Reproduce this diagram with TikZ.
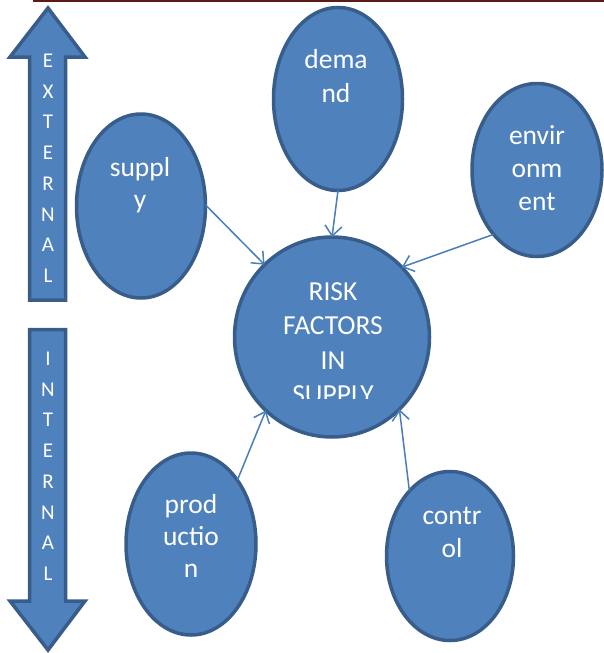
\documentclass[tikz,border=0pt]{standalone}
\usepackage{fontspec}
\setmainfont{Carlito}
\usetikzlibrary{shapes.geometric,arrows.meta}
\definecolor{fillblue}{HTML}{4F81BD}
\definecolor{edgeblue}{HTML}{385D8A}
\definecolor{linkblue}{HTML}{4A7EBB}
\definecolor{topred}{HTML}{5C1A1A}
\begin{document}
\begin{tikzpicture}[x=1pt,y=-1pt,
  blob/.style={ellipse,draw=edgeblue,fill=fillblue,line width=3.5pt,inner sep=0pt,outer sep=0pt},
  txt/.style={anchor=base,text=white,font=\fontsize{27.5}{30}\selectfont,inner sep=0pt},
  ltr/.style={anchor=base,text=white,font=\fontsize{21}{24}\selectfont,inner sep=0pt},
  link/.style={draw=linkblue,line width=1.5pt,-{Straight Barb[length=10pt,width=17pt]}},
  bigarrow/.style={draw=edgeblue,fill=fillblue,line width=3.5pt,line join=miter}]
\useasboundingbox (0,0) rectangle (604,653);
% top rule
\coordinate (ruleL) at (33,0.8);
\coordinate (ruleR) at (604,0.8);
\draw[topred,line width=1.6pt] (ruleL) -- (ruleR);
% big arrows
\draw[bigarrow] (48,8) -- (85,57) -- (65.5,57) -- (65.5,300) -- (29.5,300) -- (29.5,57) -- (10,57) -- cycle;
\draw[bigarrow] (29.5,329.5) -- (65.5,329.5) -- (65.5,601) -- (85,601) -- (48,650) -- (10,601) -- (29.5,601) -- cycle;
\foreach \c [count=\i from 0] in {E,X,T,E,R,N,A,L}
  \node[ltr] (ext\i) at (48,{67.5+30.7*\i}) {\c};
\foreach \c [count=\i from 0] in {I,N,T,E,R,N,A,L}
  \node[ltr] (int\i) at (48,{365.5+30.7*\i}) {\c};
% ellipses
\node[blob,minimum width=129pt,minimum height=183pt] (demand) at (338,99) {};
\node[blob,minimum width=129pt,minimum height=184pt] (supply) at (141,206) {};
\node[blob,minimum width=130pt,minimum height=173pt] (env) at (537,170) {};
\node[blob,minimum width=195pt,minimum height=200pt] (core) at (332,337) {};
\node[blob,minimum width=130pt,minimum height=182pt] (prod) at (191,544) {};
\node[blob,minimum width=127pt,minimum height=169pt] (ctrl) at (450,556) {};
% texts
\node[txt] (d1) at (336,68) {dema};
\node[txt] (d2) at (336,102) {nd};
\node[txt] (s1) at (140,176) {suppl};
\node[txt] (s2) at (140,208) {y};
\node[txt] (e1) at (537,144) {envir};
\node[txt] (e2) at (537,177) {onm};
\node[txt] (e3) at (537,210) {ent};
\node[txt] (p1) at (191,513) {prod};
\node[txt] (p2) at (191,545) {uctio};
\node[txt] (p3) at (191,577) {n};
\node[txt] (c1) at (452,524) {contr};
\node[txt] (c2) at (452,557) {ol};
\begin{scope}
  \clip (200,250) rectangle (460,398.5);
  \node[txt] (r1) at (333,300) {RISK};
  \node[txt] (r2) at (333,334.5) {FACTORS};
  \node[txt] (r3) at (333,369) {IN};
  \node[txt] (r4) at (333,403) {SUPPLY};
\end{scope}
% connectors
\draw[link] (supply.1) -- (core.133);
\draw[link] (demand.south) -- (core.north);
\draw[link] (env.-124) -- (core.45);
\draw[link] (prod.54) -- (core.228);
\draw[link] (ctrl.122) -- (core.-47);
\end{tikzpicture}
\end{document}
